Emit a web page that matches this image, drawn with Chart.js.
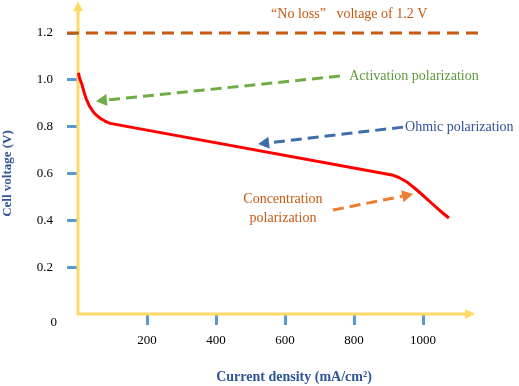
<!DOCTYPE html>
<html><head><meta charset="utf-8">
<script src="https://cdn.jsdelivr.net/npm/chart.js@4"></script>
<style>html,body{margin:0;padding:0;background:#fff}</style>
</head><body>
<canvas id="c" width="519" height="386"></canvas>
<script>
const curveX=[1,5,11,18,25,34,44,54,64,78,93,910,930,952,976,1001,1025,1049,1075];
const curveY=[1.03,1.005,0.982,0.945,0.914,0.886,0.864,0.848,0.836,0.824,0.814,0.594,0.583,0.565,0.537,0.505,0.473,0.441,0.41];
const lossX=[-32,1177];
const lossY=[1.2,1.2];
const xTicks=[200,400,600,800,1000];
const yTicks=[0.2,0.4,0.6,0.8,1.0,1.2];
const axisTip=[1151,1.336];
// arrows: [tailX,tailY,headX,headY,colour]
const arrows=[
 [759,1.016,52,0.909,'#70ad47'],
 [942,0.798,522,0.726,'#3d6fad'],
 [739,0.444,971,0.512,'#ed7d31']
];
// notes: [text,x,y,align,colour]
const notes=[
 ['\u201CNo loss\u201D   voltage of 1.2 V',786,1.28,'center','#c55a11'],
 ['Activation polarization',786,1.016,'left','#5b9a3c'],
 ['Ohmic polarization',948,0.798,'left','#2f4f9c'],
 ['Concentration',594,0.491,'center','#c55a11'],
 ['polarization',594,0.41,'center','#c55a11']
];

const serif='"Liberation Serif","Times New Roman",serif';
const tickBlue='#5b9bd5';
const axisGold='#ffd966';
const titleBlue='#2f5597';

function arrow(ctx,x0,y0,x1,y1,col){
 const a=Math.atan2(y1-y0,x1-x0);
 const L=11,Wd=6;
 ctx.save();
 ctx.strokeStyle=col;ctx.fillStyle=col;ctx.lineWidth=3;
 ctx.setLineDash([11,6]);
 ctx.beginPath();ctx.moveTo(x0,y0);
 ctx.lineTo(x1-L*Math.cos(a),y1-L*Math.sin(a));ctx.stroke();
 ctx.setLineDash([]);
 ctx.beginPath();
 ctx.moveTo(x1,y1);
 ctx.lineTo(x1-L*Math.cos(a)+Wd*Math.sin(a),y1-L*Math.sin(a)-Wd*Math.cos(a));
 ctx.lineTo(x1-L*Math.cos(a)-Wd*Math.sin(a),y1-L*Math.sin(a)+Wd*Math.cos(a));
 ctx.closePath();ctx.fill();
 ctx.restore();
}

const deco={
 id:'deco',
 beforeDatasetsDraw(chart){
  const {ctx,scales:{x,y}}=chart;
  const ox=x.getPixelForValue(0),oy=y.getPixelForValue(0);
  const tx=x.getPixelForValue(axisTip[0]),ty=y.getPixelForValue(axisTip[1]);
  ctx.save();
  ctx.strokeStyle=axisGold;ctx.fillStyle=axisGold;ctx.lineWidth=3;
  ctx.beginPath();ctx.moveTo(ox,ty+8);ctx.lineTo(ox,oy);ctx.lineTo(tx-8,oy);ctx.stroke();
  ctx.beginPath();ctx.moveTo(ox,ty);ctx.lineTo(ox-5,ty+10);ctx.lineTo(ox+5,ty+10);ctx.closePath();ctx.fill();
  ctx.beginPath();ctx.moveTo(tx,oy);ctx.lineTo(tx-10,oy-5);ctx.lineTo(tx-10,oy+5);ctx.closePath();ctx.fill();
  ctx.fillStyle='#000';ctx.font='13px '+serif;ctx.textAlign='right';ctx.textBaseline='middle';
  ctx.fillText('0',ox-21,oy+9);
  ctx.restore();
 },
 afterDatasetsDraw(chart){
  const {ctx,scales:{x,y}}=chart;
  arrows.forEach(a=>arrow(ctx,x.getPixelForValue(a[0]),y.getPixelForValue(a[1]),x.getPixelForValue(a[2]),y.getPixelForValue(a[3]),a[4]));
  ctx.save();
  ctx.font='14px '+serif;ctx.textBaseline='middle';
  notes.forEach(n=>{
   ctx.fillStyle=n[4];ctx.textAlign=n[3];
   ctx.fillText(n[0],x.getPixelForValue(n[1]),y.getPixelForValue(n[2]));
  });
  ctx.restore();
 }
};

new Chart(document.getElementById('c'),{
 type:'line',
 data:{datasets:[
  {data:lossX.map((v,i)=>({x:v,y:lossY[i]})),borderColor:'#c55a11',borderWidth:3,borderDash:[12,7],pointRadius:0,clip:false},
  {data:curveX.map((v,i)=>({x:v,y:curveY[i]})),borderColor:'#ff0000',borderWidth:3,pointRadius:0,tension:0,borderJoinStyle:'round',clip:false}
 ]},
 options:{
  responsive:false,animation:false,
  layout:{padding:{left:0,right:9,top:33,bottom:0}},
  plugins:{legend:{display:false},tooltip:{enabled:false}},
  scales:{
   x:{type:'linear',min:0,max:1252,
    afterBuildTicks:s=>{s.ticks=xTicks.map(v=>({value:v}));},
    afterFit:s=>{s.height=72;},
    grid:{drawOnChartArea:false,drawTicks:true,tickLength:11,color:tickBlue,lineWidth:3},
    border:{display:false},
    ticks:{padding:8,color:'#000',font:{family:serif,size:13},maxRotation:0,callback:v=>String(v)},
    title:{display:true,text:'Current density (mA/cm\u00B2)',color:titleBlue,font:{family:serif,size:14,weight:'bold'},padding:{top:0,bottom:0}}
   },
   y:{type:'linear',min:0,max:1.2,
    afterBuildTicks:s=>{s.ticks=yTicks.map(v=>({value:v}));},
    afterFit:s=>{s.width=78;},
    grid:{drawOnChartArea:false,drawTicks:true,tickLength:11,color:tickBlue,lineWidth:3},
    border:{display:false},
    ticks:{padding:14,color:'#000',font:{family:serif,size:13},callback:v=>v.toFixed(1)},
    title:{display:true,text:'Cell voltage (V)',color:titleBlue,font:{family:serif,size:13,weight:'bold'},padding:{top:0,bottom:0}}
   }
  }
 },
 plugins:[deco]
});
</script>
</body></html>
